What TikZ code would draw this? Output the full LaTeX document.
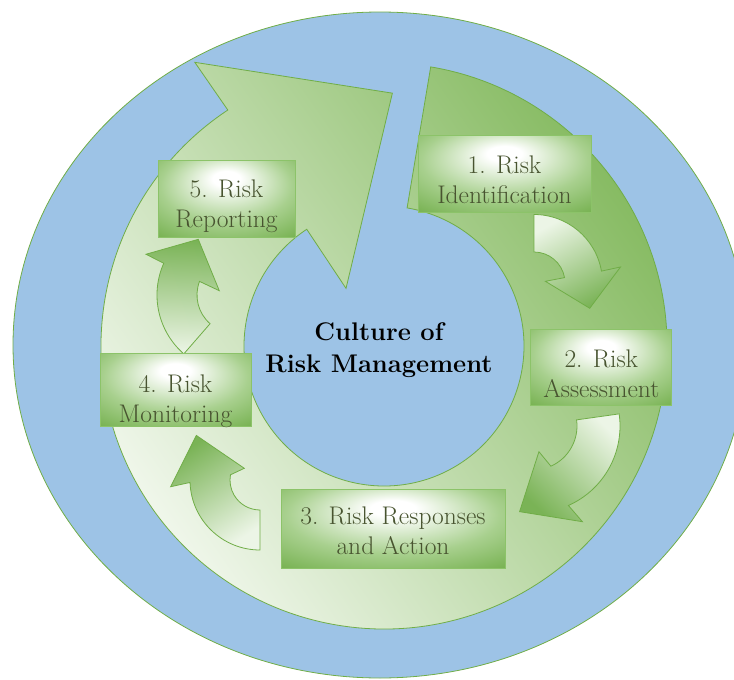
\documentclass[tikz,border=0pt]{standalone}
\usetikzlibrary{calc}
\definecolor{skyblue}{RGB}{157,195,230}
\definecolor{leafline}{RGB}{112,173,71}
\definecolor{ringdark}{RGB}{133,186,96}
\definecolor{ringmid}{RGB}{180,214,155}
\definecolor{ringlight}{RGB}{244,249,240}
\definecolor{boxgreen}{RGB}{110,172,70}
\definecolor{boxmid}{RGB}{168,208,142}
\definecolor{boxline}{RGB}{140,195,105}
\definecolor{olivetext}{RGB}{72,84,48}
\definecolor{headgreen}{RGB}{122,179,86}
\definecolor{tailgreen}{RGB}{236,245,230}
\pgfdeclareradialshading{boxglow}{\pgfpoint{0bp}{14bp}}{color(0bp)=(white); color(5bp)=(white); color(24bp)=(boxmid); color(42bp)=(boxgreen); color(60bp)=(boxgreen)}
\tikzset{
	ringstyle/.style={draw=leafline,line width=0.8pt,left color=ringlight,middle color=ringmid,right color=ringdark,shading angle=125},
	smallarrow/.style={draw=leafline,line width=0.8pt,top color=headgreen,bottom color=tailgreen},
	boxstyle/.style={rectangle,draw=boxline,line width=0.8pt,shade,shading=boxglow,inner sep=0pt},
	textstyle/.style={align=center,text=olivetext,text depth=0pt,font=\fontsize{25.5}{30}\selectfont},
	titlestyle/.style={align=center,text depth=0pt,font=\fontsize{25.5}{32}\selectfont\bfseries}
}
\begin{document}
\begin{tikzpicture}[x=1pt,y=-1pt]
	\useasboundingbox (0,0) rectangle (734,680);
	% background disc
	\path[draw=leafline,fill=skyblue,line width=0.8pt] (380,345) ellipse [x radius=367,y radius=333];
	% big cycle arrow
	\coordinate (hub) at (384,346);
	\path[ringstyle] ($(hub)+(-80.5:283)$) arc[start angle=-80.5,end angle=236.5,radius=283]
		-- ($(hub)+(236.3:341)$) -- ($(hub)+(271.9:253)$) -- ($(hub)+(236.6:69)$)
		-- ($(hub)+(236.5:140)$) arc[start angle=236.5,end angle=-80.5,radius=140] -- cycle;
	% small arrows between the steps
	\coordinate (a1) at (534,283);
	\coordinate (a2) at (533,426);
	\coordinate (a3) at (260,480);
	\coordinate (a4) at (235,295);
	\path[smallarrow,shading angle=-151] ($(a1)+(-90:68.5)$) -- ($(a1)+(-90:31)$) arc[start angle=-90,end angle=-10,radius=31]
		-- ($(a1)+(-8.5:11.5)$) -- ($(a1)+(24.4:61.2)$) -- ($(a1)+(-10.5:88)$)
		-- ($(a1)+(-10:68.5)$) arc[start angle=-10,end angle=-90,radius=68.5] -- cycle;
	\path[smallarrow,shading angle=136] ($(a2)+(-8:87)$) -- ($(a2)+(-8:44)$) arc[start angle=-8,end angle=66,radius=44]
		-- ($(a2)+(77:26.4)$) -- ($(a2)+(98.9:86.7)$) -- ($(a2)+(62.7:107.7)$)
		-- ($(a2)+(66:87)$) arc[start angle=66,end angle=-8,radius=87] -- cycle;
	\path[smallarrow,shading angle=33] ($(a3)+(90:70)$) -- ($(a3)+(90:30)$) arc[start angle=90,end angle=190,radius=30]
		-- ($(a3)+(216.7:19.6)$) -- ($(a3)+(215:77.7)$) -- ($(a3)+(175.7:89.6)$)
		-- ($(a3)+(178:70)$) arc[start angle=178,end angle=90,radius=70] -- cycle;
	\path[smallarrow,shading angle=-2] ($(a4)+(131:78)$) -- ($(a4)+(131:38)$) arc[start angle=131,end angle=201,radius=38]
		-- ($(a4)+(195.3:16.3)$) -- ($(a4)+(236.6:66.7)$) -- ($(a4)+(204.6:97.9)$)
		-- ($(a4)+(204:78)$) arc[start angle=204,end angle=131,radius=78] -- cycle;
	% step boxes
	\node[boxstyle,minimum width=173,minimum height=77] (b1) at (504.5,173.5) {};
	\node[boxstyle,minimum width=141,minimum height=76] (b2) at (601.3,367.2) {};
	\node[boxstyle,minimum width=224,minimum height=79] (b3) at (393,528.5) {};
	\node[boxstyle,minimum width=151,minimum height=73] (b4) at (175.5,389.5) {};
	\node[boxstyle,minimum width=137,minimum height=77] (b5) at (226.5,198.5) {};
	\node[textstyle] (t1) at (504.5,179.7) {1. Risk\\Identification};
	\node[textstyle] (t2) at (601.3,373.4) {2. Risk\\Assessment};
	\node[textstyle] (t3) at (393,531) {3. Risk Responses\\and Action};
	\node[textstyle] (t4) at (175.5,399) {4. Risk\\Monitoring};
	\node[textstyle] (t5) at (226.5,203.8) {5. Risk\\Reporting};
	\node[titlestyle] (title) at (379,347.4) {Culture of\\Risk Management};
\end{tikzpicture}
\end{document}
